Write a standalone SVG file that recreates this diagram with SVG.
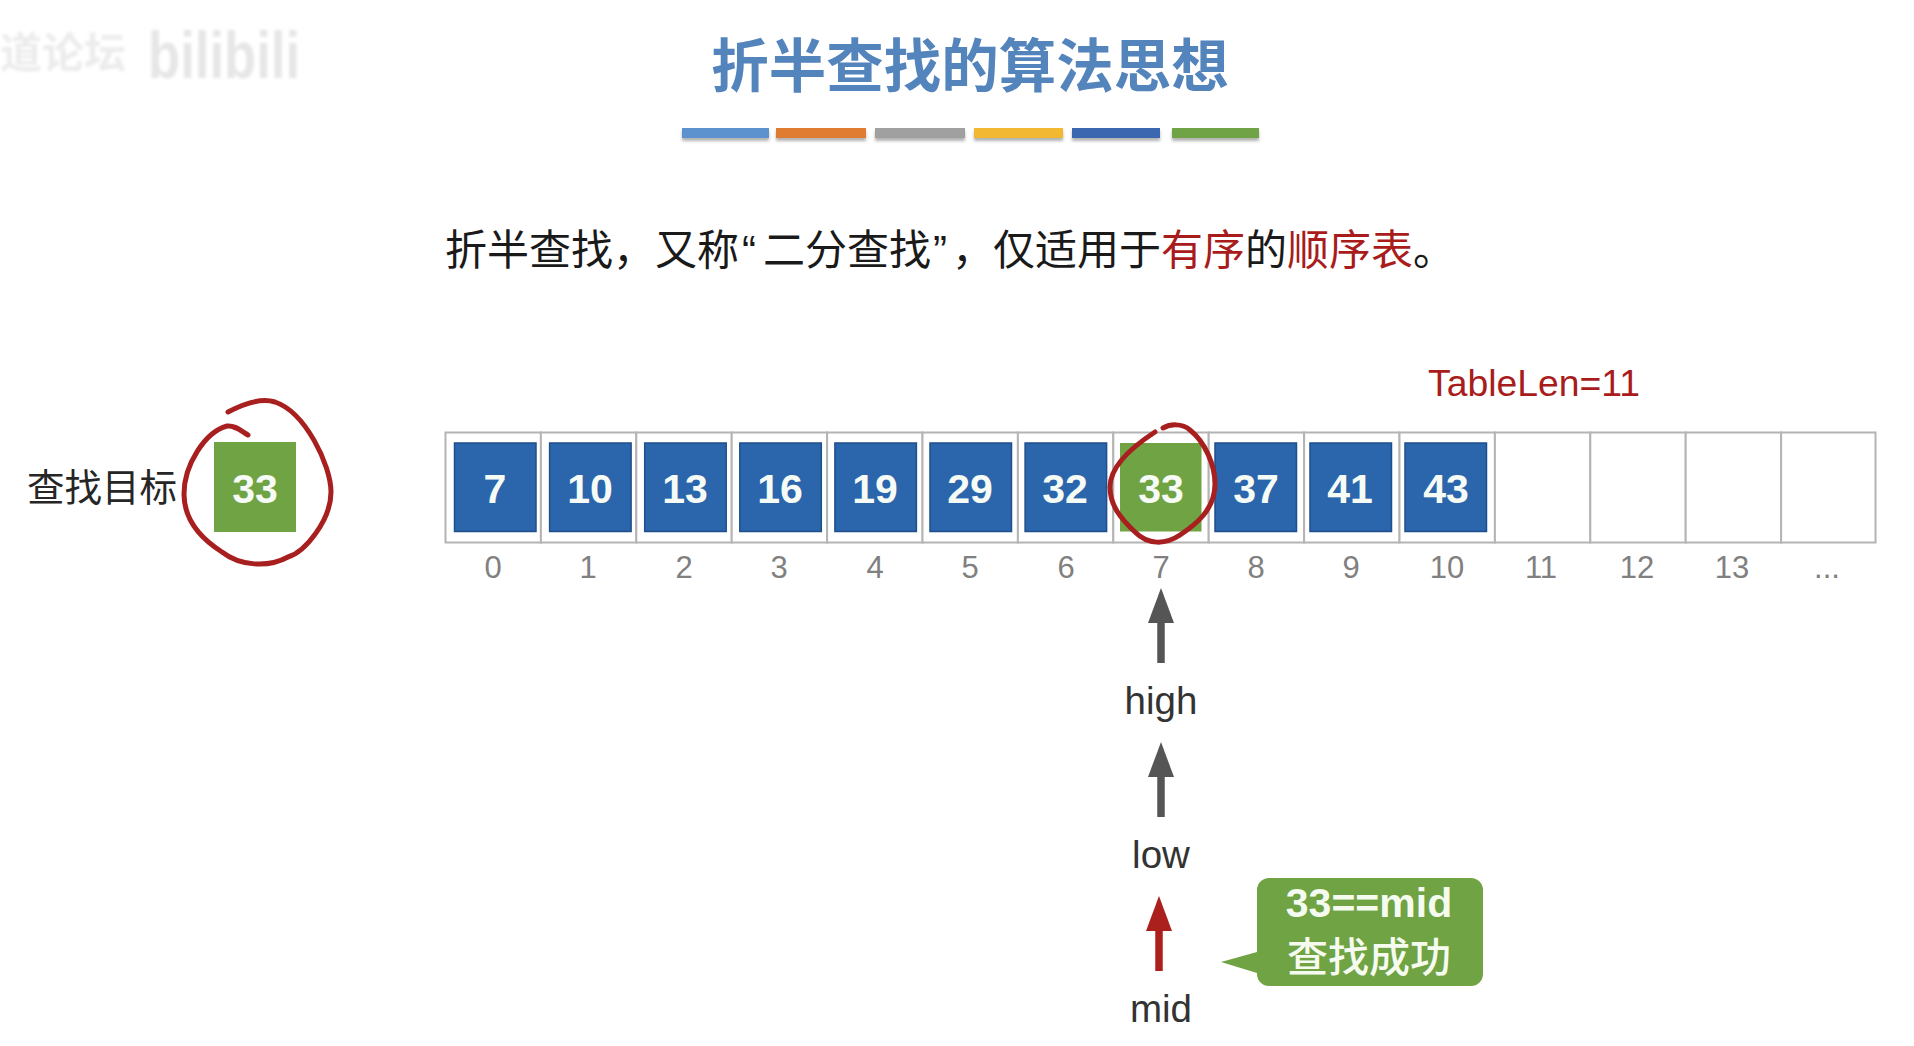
<svg xmlns="http://www.w3.org/2000/svg" width="1914" height="1046" viewBox="0 0 1914 1046">
<style>
text{font-family:"Liberation Sans","Noto Sans CJK SC",sans-serif}
.cjk{font-family:"Noto Sans CJK SC","Liberation Sans",sans-serif}
.cell{fill:#fff;stroke:#b4b4b4;stroke-width:2}
.blue{fill:#2b66ac;stroke:#1f4f8c;stroke-width:1.5}
.green{fill:#70a344}
.val{fill:#f6fbf6;font-size:41px;font-weight:700;text-anchor:middle}
.idx{fill:#808080;font-size:31px;text-anchor:middle}
.ptr{fill:#333;font-size:38.5px;text-anchor:middle}
.hand{fill:none;stroke:#a81f1f;stroke-width:5;stroke-linecap:round;stroke-linejoin:round}
.red{fill:#a81c1c}
.shaft{stroke:#555;stroke-width:7.5}
.shaft-red{stroke:#ab1f1c;stroke-width:7.5}
</style>
<defs>
<filter id="sh" x="-10%" y="-50%" width="120%" height="220%"><feDropShadow dx="0" dy="3" stdDeviation="1.5" flood-color="#000" flood-opacity=".3"/></filter>
<filter id="soft" x="-5%" y="-20%" width="110%" height="140%"><feGaussianBlur stdDeviation="1.6"/></filter>
<marker id="ah" markerUnits="userSpaceOnUse" markerWidth="36" markerHeight="28" refX="1" refY="14" orient="auto" viewBox="0 0 36 28"><path d="M35 14L0 1V27Z" fill="#555"/></marker>
<marker id="ahr" markerUnits="userSpaceOnUse" markerWidth="36" markerHeight="28" refX="1" refY="14" orient="auto" viewBox="0 0 36 28"><path d="M35 14L0 1V27Z" fill="#ab1f1c"/></marker>
</defs>
<rect width="1914" height="1046" fill="#fff"/>
<g id="watermark" font-weight="700" filter="url(#soft)"><text class="cjk" x="0" y="68" font-size="42" fill="#ececec">道论坛</text><text x="148" y="78" font-size="66" fill="#e6e6e6" textLength="152" lengthAdjust="spacingAndGlyphs">bilibili</text></g>
<g id="title"><text class="cjk" x="970" y="87" font-size="57.5" font-weight="700" fill="#5384bc" text-anchor="middle">折半查找的算法思想</text></g>
<g id="bars" filter="url(#sh)">
<rect x="682" y="128" width="87" height="10" fill="#5b93cf"/>
<rect x="776" y="128" width="90" height="10" fill="#e07b33"/>
<rect x="875" y="128" width="90" height="10" fill="#a0a0a0"/>
<rect x="974" y="128" width="89" height="10" fill="#f2b830"/>
<rect x="1072" y="128" width="88" height="10" fill="#3a66b0"/>
<rect x="1172" y="128" width="87" height="10" fill="#6fa345"/>
</g>
<g id="subtitle"><text class="cjk" y="265" font-size="42" fill="#1a1a1a"><tspan x="445">折半查找，又称</tspan><tspan x="742" font-family="Liberation Sans">“</tspan><tspan x="763">二分查找</tspan><tspan x="933" font-family="Liberation Sans">”</tspan><tspan x="952">，</tspan><tspan x="993">仅适用于</tspan><tspan x="1161" class="red">有序</tspan><tspan x="1245">的</tspan><tspan x="1287" class="red">顺序表</tspan><tspan x="1413">。</tspan></text></g>
<g id="table-length"><text x="1428" y="396" font-size="36.5" class="red" textLength="212" lengthAdjust="spacingAndGlyphs">TableLen=11</text></g>
<g id="target"><text class="cjk" x="27" y="501" font-size="37.5" fill="#262626">查找目标</text><rect class="green" x="214" y="442" width="82" height="90"/><text class="val" x="255" y="503">33</text></g>
<g id="table">
<rect class="cell" x="445.5" y="432.5" width="95.4" height="110"/><rect class="cell" x="540.9" y="432.5" width="95.4" height="110"/><rect class="cell" x="636.3" y="432.5" width="95.4" height="110"/><rect class="cell" x="731.7" y="432.5" width="95.4" height="110"/><rect class="cell" x="827.1" y="432.5" width="95.4" height="110"/><rect class="cell" x="922.5" y="432.5" width="95.4" height="110"/><rect class="cell" x="1017.9" y="432.5" width="95.4" height="110"/><rect class="cell" x="1113.3" y="432.5" width="95.4" height="110"/><rect class="cell" x="1208.7" y="432.5" width="95.4" height="110"/><rect class="cell" x="1304.1" y="432.5" width="95.4" height="110"/><rect class="cell" x="1399.5" y="432.5" width="95.4" height="110"/><rect class="cell" x="1494.9" y="432.5" width="95.4" height="110"/><rect class="cell" x="1590.3" y="432.5" width="95.4" height="110"/><rect class="cell" x="1685.7" y="432.5" width="95.4" height="110"/><rect class="cell" x="1781.1" y="432.5" width="94.4" height="110"/>
</g>
<g id="n0"><rect class="blue" x="454.5" y="443" width="81.5" height="88.5"/><text class="val" x="495" y="503">7</text></g>
<g id="n1"><rect class="blue" x="549.6" y="443" width="81.5" height="88.5"/><text class="val" x="590" y="503">10</text></g>
<g id="n2"><rect class="blue" x="644.7" y="443" width="81.5" height="88.5"/><text class="val" x="685" y="503">13</text></g>
<g id="n3"><rect class="blue" x="739.8" y="443" width="81.5" height="88.5"/><text class="val" x="780" y="503">16</text></g>
<g id="n4"><rect class="blue" x="834.9" y="443" width="81.5" height="88.5"/><text class="val" x="875" y="503">19</text></g>
<g id="n5"><rect class="blue" x="930" y="443" width="81.5" height="88.5"/><text class="val" x="970" y="503">29</text></g>
<g id="n6"><rect class="blue" x="1025.1" y="443" width="81.5" height="88.5"/><text class="val" x="1065" y="503">32</text></g>
<g id="n7"><rect class="green" x="1120" y="443" width="81.5" height="88.5"/><text class="val" x="1161" y="503">33</text></g>
<g id="n8"><rect class="blue" x="1215" y="443" width="81.5" height="88.5"/><text class="val" x="1256" y="503">37</text></g>
<g id="n9"><rect class="blue" x="1310" y="443" width="81.5" height="88.5"/><text class="val" x="1350" y="503">41</text></g>
<g id="n10"><rect class="blue" x="1405" y="443" width="81.5" height="88.5"/><text class="val" x="1446" y="503">43</text></g>
<g id="indices">
<text class="idx" x="493" y="578">0</text><text class="idx" x="588" y="578">1</text><text class="idx" x="684" y="578">2</text><text class="idx" x="779" y="578">3</text><text class="idx" x="875" y="578">4</text><text class="idx" x="970" y="578">5</text><text class="idx" x="1066" y="578">6</text><text class="idx" x="1161" y="578">7</text><text class="idx" x="1256" y="578">8</text><text class="idx" x="1351" y="578">9</text><text class="idx" x="1447" y="578">10</text><text class="idx" x="1541" y="578">11</text><text class="idx" x="1637" y="578">12</text><text class="idx" x="1732" y="578">13</text><text class="idx" x="1827" y="578">...</text>
</g>
<g id="annotations">
<path class="hand" d="M228 412C245 403 262 398 275 402C305 412 331 465 331 492C331 520 305 552 288 557C268 568 240 566 222 552C200 538 184 520 184 494C184 465 205 432 227 426C235 425 241 431 248 435"/>
<path class="hand" d="M1163 428C1170 424 1182 423 1190 430C1205 442 1215 465 1215 484C1215 510 1195 525 1180 535C1165 545 1148 545 1135 532C1120 518 1110 505 1110 487C1110 465 1135 445 1155 432"/>
</g>
<g id="connectors">
<line class="shaft" x1="1161" y1="663" x2="1161" y2="622" marker-end="url(#ah)"/>
<line class="shaft" x1="1161" y1="817" x2="1161" y2="776" marker-end="url(#ah)"/>
<line class="shaft-red" x1="1159" y1="971" x2="1159" y2="930" marker-end="url(#ahr)"/>
</g>
<g id="high"><text class="ptr" x="1161" y="714">high</text></g>
<g id="low"><text class="ptr" x="1161" y="868">low</text></g>
<g id="mid"><text class="ptr" x="1161" y="1022">mid</text></g>
<g id="callout"><path class="green" d="M1269 878H1471A12 12 0 0 1 1483 890V974A12 12 0 0 1 1471 986H1269A12 12 0 0 1 1257 974V973L1221 962L1257 952V890A12 12 0 0 1 1269 878Z"/>
<text x="1369" y="917" font-size="41" font-weight="700" fill="#f6fbf0" text-anchor="middle">33==mid</text>
<text class="cjk" x="1369" y="972" font-size="41" font-weight="500" fill="#f6fbf0" text-anchor="middle">查找成功</text></g>
</svg>
